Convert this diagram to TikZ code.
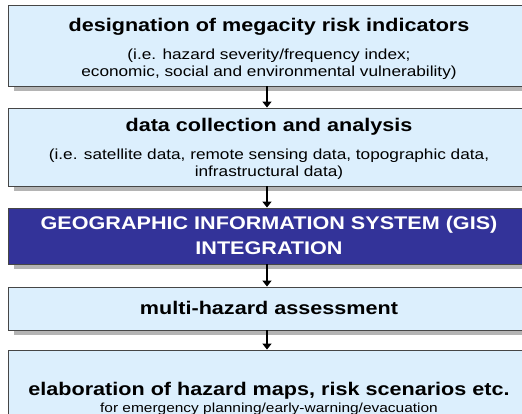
\documentclass[tikz,border=0pt]{standalone}
\usepackage{fontspec}
\setmainfont{Liberation Sans}[FakeStretch=1.18]
\usetikzlibrary{arrows.meta}
\definecolor{boxfill}{RGB}{220,239,253}
\definecolor{gisfill}{RGB}{51,51,153}
\definecolor{boxline}{RGB}{70,70,70}
\definecolor{shadowgray}{RGB}{180,180,180}
\tikzset{
  stage/.style={draw=boxline, line width=0.9pt, fill=boxfill, minimum width=522pt, inner sep=0pt},
  gisstage/.style={stage, fill=gisfill},
  shadebox/.style={fill=shadowgray, draw=none, minimum width=522pt, inner sep=0pt, xshift=6pt, yshift=-5pt},
  flow/.style={line width=1.6pt, -{Triangle[width=9pt,length=6pt]}},
  ttl/.style={font=\bfseries\fontsize{18.3}{25}\selectfont, align=center, inner sep=0pt},
  sub/.style={font=\fontsize{14.6}{17}\selectfont, align=center, inner sep=0pt},
  smallsub/.style={font=\fontsize{13.1}{16}\selectfont, align=center, inner sep=0pt}
}
\begin{document}
\begin{tikzpicture}[x=1pt,y=1pt]
\clip (0,0) rectangle (522,-414);
\fill[white] (0,0) rectangle (522,-414);
% shadows
\node[shadebox, minimum height=81pt] (h1) at (269,-45.5) {};
\node[shadebox, minimum height=78pt] (h2) at (269,-147) {};
\node[shadebox, minimum height=56pt] (h3) at (269,-236) {};
\node[shadebox, minimum height=43pt] (h4) at (269,-308.5) {};
\node[shadebox, minimum height=98pt] (h5) at (269,-399) {};
% boxes
\node[stage, minimum height=81pt] (b1) at (269,-45.5) {};
\node[ttl] (t1) at (269,-27) {designation of megacity risk indicators};
\node[sub] (u1) at (269,-64.5) {(i.e. hazard severity/frequency index;\\economic, social and environmental vulnerability)};
\node[stage, minimum height=78pt] (b2) at (269,-147) {};
\node[ttl] (t2) at (269,-127) {data collection and analysis};
\node[sub] (u2) at (269,-164.5) {(i.e. satellite data, remote sensing data, topographic data,\\infrastructural data)};
\node[gisstage, minimum height=56pt] (b3) at (269,-236) {};
\node[ttl, text=white] (t3) at (269,-235.5) {GEOGRAPHIC INFORMATION SYSTEM (GIS)\\INTEGRATION};
\node[stage, minimum height=43pt] (b4) at (269,-308.5) {};
\node[ttl] (t4) at (269,-308) {multi-hazard assessment};
\node[stage, minimum height=98pt] (b5) at (269,-399) {};
\node[ttl] (t5) at (269,-391) {elaboration of hazard maps, risk scenarios etc.};
\node[smallsub] (u5) at (269,-409) {for emergency planning/early-warning/evacuation};
\draw[flow] (b1.south -| 267,0) -- (b2.north -| 267,0);
\draw[flow] (b2.south -| 267,0) -- (b3.north -| 267,0);
\draw[flow] (b3.south -| 267,0) -- (b4.north -| 267,0);
\draw[flow] (b4.south -| 267,0) -- (b5.north -| 267,0);
\end{tikzpicture}
\end{document}
